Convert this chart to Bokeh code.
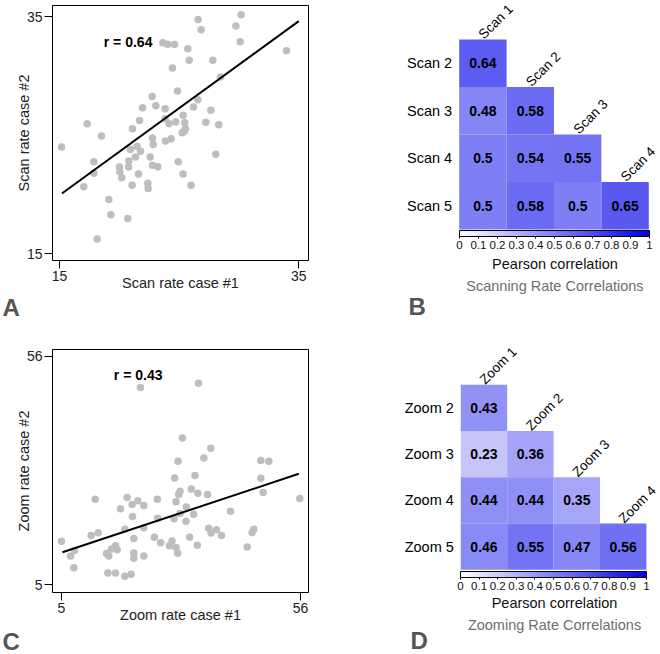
from bokeh.plotting import figure
from bokeh.models import (FixedTicker, Label, ColorBar, LinearColorMapper, ColumnDataSource,
                          Range1d, Title, AllLabels)
from bokeh.layouts import column, row
from bokeh.embed import file_html
from bokeh.resources import INLINE
from bokeh.core.properties import value
from bokeh.transform import linear_cmap

FONT = "Liberation Sans"

# ---------------- data: panel A (scan rate) ----------------
scan_case1 = [15.17, 17.31, 18.51, 17.87, 17.87, 17.03, 19.12, 19.29, 18.15, 20.71,
              20.01, 20.04, 20.21, 20.79, 20.77, 21.07, 21.60, 20.93, 21.35, 21.49,
              21.77, 21.10, 21.69, 21.94, 22.38, 22.41, 22.58, 22.77, 22.83, 22.77,
              23.22, 22.74, 23.05, 23.83, 23.83, 23.86, 24.33, 24.16, 24.72, 24.86,
              24.44, 23.64, 24.03, 24.61, 24.92, 25.33, 26.00, 25.33, 25.47, 25.53,
              25.25, 25.45, 25.72, 25.84, 26.56, 26.20, 26.59, 26.84, 27.23, 27.65,
              27.81, 28.31, 28.45, 28.06, 29.74, 30.18, 30.10, 33.97]
scan_case2 = [23.99, 25.96, 24.92, 22.75, 21.78, 20.63, 19.56, 18.27, 16.22, 17.96,
              22.30, 21.91, 21.40, 22.81, 22.30, 20.76, 21.71, 23.78, 23.15, 24.04,
              23.62, 25.53, 26.23, 27.30, 20.93, 20.48, 23.15, 24.75, 24.19, 22.44,
              22.33, 28.26, 27.47, 27.22, 26.38, 24.49, 24.69, 25.96, 26.10, 28.71,
              30.65, 32.78, 32.67, 32.64, 22.75, 21.71, 20.76, 26.66, 26.04, 25.53,
              25.20, 25.34, 32.28, 31.32, 27.98, 27.36, 34.75, 33.88, 26.07, 27.08,
              31.32, 25.87, 29.89, 23.37, 34.19, 35.14, 32.87, 32.11]
scan_fit_x = [15.2, 35.0]
scan_fit_y = [20.06, 34.61]
scan_ticks = [15, 35]
scan_r_label = "r =  0.64"

# ---------------- data: panel C (zoom rate) ----------------
zoom_case1 = [5.00, 6.92, 7.77, 7.63, 11.33, 12.83, 12.19, 14.61, 15.10, 15.67,
              16.52, 16.88, 14.89, 16.52, 18.51, 19.86, 17.59, 18.51, 19.01, 20.08,
              20.15, 20.43, 20.43, 20.43, 22.57, 21.28, 22.57, 22.57, 21.86, 24.82,
              25.46, 25.53, 26.17, 28.02, 28.59, 29.44, 29.80, 29.01, 29.44, 30.01,
              30.29, 29.16, 29.87, 30.79, 30.29, 31.57, 31.64, 32.35, 32.70, 33.20,
              33.48, 33.98, 34.23, 34.09, 36.15, 35.37, 36.86, 36.43, 36.93, 38.07,
              39.14, 41.06, 44.62, 45.68, 46.04, 47.53, 49.24, 47.53, 48.03, 55.85]
zoom_case2 = [14.69, 11.37, 12.64, 8.76, 15.96, 16.60, 24.08, 11.94, 11.37, 12.93,
              13.70, 12.78, 7.62, 7.62, 6.85, 7.34, 21.96, 17.37, 24.43, 22.88,
              20.19, 15.32, 12.07, 10.87, 11.37, 23.73, 22.67, 17.72, 49.01, 15.60,
              24.08, 19.84, 14.33, 13.70, 14.76, 13.27, 12.00, 19.70, 23.51, 25.14,
              25.85, 28.81, 32.55, 37.71, 20.90, 19.14, 22.31, 15.60, 26.34, 20.69,
              29.38, 13.77, 49.93, 25.42, 25.14, 33.26, 35.45, 17.58, 16.52, 17.23,
              15.96, 21.40, 13.42, 16.66, 17.37, 32.69, 32.55, 28.74, 25.56, 24.22]
zoom_fit_x = [5.2, 55.64]
zoom_fit_y = [12.21, 29.73]
zoom_ticks = [5, 56]
zoom_r_label = "r =  0.43"

# ---------------- data: panels B and D (correlation matrices) ----------------
scan_rows = ["Scan 2", "Scan 3", "Scan 4", "Scan 5"]
scan_cols = ["Scan 1", "Scan 2", "Scan 3", "Scan 4"]
scan_corr = [[0.64],
             [0.48, 0.58],
             [0.5, 0.54, 0.55],
             [0.5, 0.58, 0.5, 0.65]]

zoom_rows = ["Zoom 2", "Zoom 3", "Zoom 4", "Zoom 5"]
zoom_cols = ["Zoom 1", "Zoom 2", "Zoom 3", "Zoom 4"]
zoom_corr = [[0.43],
             [0.23, 0.36],
             [0.44, 0.44, 0.35],
             [0.46, 0.55, 0.47, 0.56]]

cbar_ticks = [0, 0.1, 0.2, 0.3, 0.4, 0.5, 0.6, 0.7, 0.8, 0.9, 1]

# white -> blue palette
palette = []
for i in range(256):
    t = i / 255
    r = round(255 * (1 - t))
    b = round(255 - 20 * t)
    palette.append("#%02x%02x%02x" % (r, r, b))


def scatter_panel(xs, ys, fx, fy, ticks, xr, yr, xlabel, ylabel, rlabel, rpos,
                  letter, width, height, borders, xstand, ystand, letter_standoff):
    p = figure(width=width, height=height, output_backend="svg", toolbar_location=None,
               x_range=Range1d(*xr), y_range=Range1d(*yr), frame_align=False,
               min_border_left=borders[0], min_border_right=borders[1],
               min_border_top=borders[2], min_border_bottom=borders[3])
    p.xgrid.visible = False
    p.ygrid.visible = False
    p.outline_line_color = "black"
    p.outline_line_width = 1
    p.outline_line_alpha = 1
    p.background_fill_color = "white"
    p.border_fill_color = "white"
    for ax, lab, stand in ((p.xaxis[0], xlabel, xstand), (p.yaxis[0], ylabel, ystand)):
        ax.ticker = FixedTicker(ticks=ticks)
        ax.bounds = (ticks[0], ticks[1])
        ax.axis_line_color = "black"
        ax.major_tick_line_color = "black"
        ax.major_tick_out = 8
        ax.major_tick_in = 0
        ax.minor_tick_line_color = None
        ax.major_label_text_font = FONT
        ax.major_label_text_font_size = "14px"
        ax.major_label_text_color = "#222222"
        ax.major_label_standoff = 2
        ax.axis_label = lab
        ax.axis_label_text_font = FONT
        ax.axis_label_text_font_size = "14.5px"
        ax.axis_label_text_font_style = "normal"
        ax.axis_label_text_color = "#222222"
        ax.axis_label_standoff = stand
    p.scatter(xs, ys, size=7.5, fill_color="#bebebe", line_color=None)
    p.line(fx, fy, line_color="black", line_width=2)
    p.add_layout(Label(x=rpos[0], y=rpos[1], text=rlabel, text_font=FONT,
                       text_font_size="14px", text_font_style="bold",
                       text_baseline="middle", text_color="black"))
    p.add_layout(Title(text=letter, align="left", offset=-50, standoff=letter_standoff,
                       text_font=FONT, text_font_size="24px", text_font_style="bold",
                       text_color="#555555"), "below")
    return p


def heat_panel(rows, cols, corr, title, xr, yr, rows_x, pearson_y, title_y,
               letter, lpos, width, height, cb_loc, cb_len):
    p = figure(width=width, height=height, output_backend="svg", toolbar_location=None,
               x_range=Range1d(*xr), y_range=Range1d(*yr), frame_align=False,
               x_axis_location=None, y_axis_location=None,
               min_border=0, min_border_left=0, min_border_right=0,
               min_border_top=0, min_border_bottom=0)
    p.grid.visible = False
    p.outline_line_color = None
    p.background_fill_color = "white"
    p.border_fill_color = "white"

    cx, cy, cv, ct = [], [], [], []
    for r, vals in enumerate(corr):
        for c, v in enumerate(vals):
            cx.append(c + 0.5)
            cy.append(3.5 - r)
            cv.append(v)
            ct.append(str(v))
    src = ColumnDataSource(dict(x=cx, y=cy, v=cv, t=ct))
    p.rect("x", "y", width=1, height=1, source=src, line_color=None,
           fill_color=linear_cmap("v", palette, 0, 1))
    p.text("x", "y", text="t", source=src, text_font=value(FONT), text_font_size="14px",
           text_font_style="bold", text_align="center", text_baseline="middle",
           text_color="black")
    # row labels
    p.text([rows_x] * len(rows), [3.5 - i for i in range(len(rows))], text=rows,
           text_font=value(FONT), text_font_size="14.5px", text_align="right",
           text_baseline="middle", text_color="black")
    # column labels (rotated)
    p.text([c + 0.5 for c in range(len(cols))], [4 - c for c in range(len(cols))],
           text=cols, angle=45, angle_units="deg", x_offset=-2, y_offset=-3,
           text_font=value(FONT), text_font_size="13.5px", text_align="left",
           text_baseline="alphabetic", text_color="black")
    p.text([2.02], [pearson_y], text=["Pearson correlation"], text_font=value(FONT),
           text_font_size="14.5px", text_align="center", text_baseline="middle",
           text_color="#111111")
    p.text([2.02], [title_y], text=[title], text_font=value(FONT),
           text_font_size="14.5px", text_align="center", text_baseline="middle",
           text_color="#6e6e6e")
    p.text([lpos[0]], [lpos[1]], text=[letter], text_font=value(FONT),
           text_font_size="24px", text_font_style="bold", text_align="left",
           text_baseline="middle", text_color="#555555")

    mapper = LinearColorMapper(palette=palette, low=0, high=1)
    cb = ColorBar(color_mapper=mapper, orientation="horizontal", location=cb_loc,
                  width=cb_len, height=6, padding=0, margin=0,
                  ticker=FixedTicker(ticks=cbar_ticks),
                  major_label_overrides={0: "0", 1: "1"},
                  major_label_policy=AllLabels(),
                  major_label_text_font=FONT, major_label_text_font_size="11.5px",
                  major_label_text_color="#111111", label_standoff=2,
                  major_tick_line_color="black", major_tick_in=0, major_tick_out=2,
                  bar_line_color="black", bar_line_width=1,
                  border_line_color=None, background_fill_alpha=0)
    p.add_layout(cb, "center")
    return p


pA = scatter_panel(scan_case1, scan_case2, scan_fit_x, scan_fit_y, scan_ticks,
                   (14.415, 35.81), (14.41, 35.93),
                   "Scan rate case #1", "Scan rate case #2", scan_r_label, (18.7, 32.84),
                   "A", 404, 326, (52, 96, 5, 66), -9, -8, -3)
pB = heat_panel(scan_rows, scan_cols, scan_corr, "Scanning Rate Correlations",
                (-1.154, 4.247), (-2.042, 4.821), -0.148, -0.716, -1.179,
                "B", (-1.07, -1.621), 256, 326, (55, 75), 190)
pC = scatter_panel(zoom_case1, zoom_case2, zoom_fit_x, zoom_fit_y, zoom_ticks,
                   (3.08, 57.71), (3.24, 57.48),
                   "Zoom rate case #1", "Zoom rate case #2", zoom_r_label, (16.17, 51.76),
                   "C", 404, 328, (52, 96, 23, 49), -9, -8, 0)
pD = heat_panel(zoom_rows, zoom_cols, zoom_corr, "Zooming Rate Correlations",
                (-1.213, 4.304), (-1.831, 5.261), -0.15, -0.722, -1.183,
                "D", (-1.084, -1.539), 256, 328, (56, 62), 186)

layout = column(row(pA, pB, spacing=0), row(pC, pD, spacing=0), spacing=0)
open("out.html", "w").write(file_html(layout, INLINE))
